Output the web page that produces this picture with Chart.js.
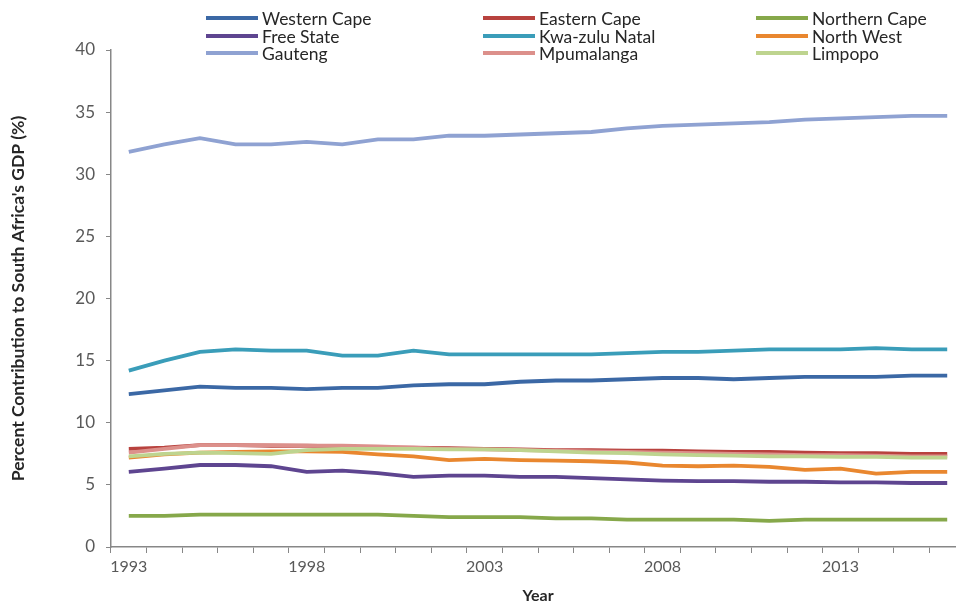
<!DOCTYPE html>
<html>
<head>
<meta charset="utf-8">
<script src="https://cdn.jsdelivr.net/npm/chart.js@4.4.1/dist/chart.umd.min.js"></script>
<style>
  html, body { margin: 0; padding: 0; background: #fff; overflow: hidden; }
  #wrap { width: 972px; height: 609px; position: relative; }
</style>
</head>
<body>
<div id="wrap"><canvas id="gdpChart"></canvas></div>
<script>
// years on the x axis, only every fifth one gets a label
const years = ['1993','1994','1995','1996','1997','1998','1999','2000','2001','2002','2003','2004',
               '2005','2006','2007','2008','2009','2010','2011','2012','2013','2014','2015','2016'];
const labelledYears = ['1993','1998','2003','2008','2013'];
const yTicks = [0, 5, 10, 15, 20, 25, 30, 35, 40];

// percent contribution to GDP
const westernCape  = [12.3,12.6,12.9,12.8,12.8,12.7,12.8,12.8,13.0,13.1,13.1,13.3,13.4,13.4,13.5,13.6,13.6,13.5,13.6,13.7,13.7,13.7,13.8,13.8];
const easternCape  = [7.9,8.0,8.2,8.2,8.15,8.15,8.1,8.0,8.0,7.95,7.9,7.85,7.8,7.8,7.75,7.75,7.7,7.65,7.65,7.6,7.55,7.55,7.5,7.5];
const northernCape = [2.5,2.5,2.6,2.6,2.6,2.6,2.6,2.6,2.5,2.4,2.4,2.4,2.3,2.3,2.2,2.2,2.2,2.2,2.1,2.2,2.2,2.2,2.2,2.2];
const freeState    = [6.05,6.3,6.6,6.6,6.5,6.05,6.15,5.95,5.65,5.75,5.75,5.65,5.65,5.55,5.45,5.35,5.3,5.3,5.25,5.25,5.2,5.2,5.15,5.15];
const kwaZuluNatal = [14.2,15.0,15.7,15.9,15.8,15.8,15.4,15.4,15.8,15.5,15.5,15.5,15.5,15.5,15.6,15.7,15.7,15.8,15.9,15.9,15.9,16.0,15.9,15.9];
const northWest    = [7.2,7.45,7.6,7.65,7.7,7.7,7.65,7.45,7.3,7.0,7.1,7.0,6.95,6.9,6.8,6.55,6.5,6.55,6.45,6.2,6.3,5.9,6.05,6.05];
const gauteng      = [31.8,32.4,32.9,32.4,32.4,32.6,32.4,32.8,32.8,33.1,33.1,33.2,33.3,33.4,33.7,33.9,34.0,34.1,34.2,34.4,34.5,34.6,34.7,34.7];
const mpumalanga   = [7.6,7.9,8.2,8.2,8.2,8.15,8.15,8.1,8.0,7.9,7.85,7.8,7.75,7.7,7.65,7.6,7.55,7.5,7.45,7.4,7.4,7.35,7.3,7.3];
const limpopo      = [7.3,7.5,7.6,7.55,7.5,7.8,7.9,7.9,7.9,7.85,7.85,7.8,7.7,7.6,7.55,7.45,7.4,7.35,7.3,7.3,7.25,7.25,7.2,7.2];

const seriesNames = ['Western Cape','Eastern Cape','Northern Cape','Free State','Kwa-zulu Natal','North West','Gauteng','Mpumalanga','Limpopo'];
const seriesData = [westernCape, easternCape, northernCape, freeState, kwaZuluNatal, northWest, gauteng, mpumalanga, limpopo];
const seriesColors = ['#3b68a5','#b8423e','#86a84a','#5e4590','#3a9db9','#e9872f','#8fa2d2','#dc908b','#bed48f'];

const axisGrey = '#878787';
const textGrey = '#595959';

// 3 x 3 legend grid like the Excel original
const gridLegend = {
    id: 'gridLegend',
    afterDraw(chart) {
        const ctx = chart.ctx;
        const cols = [206, 483, 756];
        const rows = [18, 36, 53];
        chart.data.datasets.forEach((ds, i) => {
            const x = cols[i % 3];
            const y = rows[Math.floor(i / 3)];
            ctx.save();
            ctx.strokeStyle = ds.borderColor;
            ctx.lineWidth = 4;
            ctx.beginPath();
            ctx.moveTo(x, y);
            ctx.lineTo(x + 52, y);
            ctx.stroke();
            ctx.fillStyle = '#262626';
            ctx.font = '17.5px Lato';
            ctx.textBaseline = 'middle';
            ctx.fillText(ds.label, x + 56, y + 1);
            ctx.restore();
        });
    }
};

const datasets = seriesNames.map((name, i) => ({
    label: name,
    data: seriesData[i],
    borderColor: seriesColors[i],
    backgroundColor: seriesColors[i],
    borderWidth: 3.8,
    pointRadius: 0,
    tension: 0,
    fill: false,
    order: seriesNames.length - i   // later series drawn on top, as in Excel
}));

const ctx = document.getElementById('gdpChart').getContext('2d');
new Chart(ctx, {
    type: 'line',
    data: { labels: years, datasets: datasets },
    plugins: [gridLegend],
    options: {
        responsive: true,
        maintainAspectRatio: false,
        animation: false,
        layout: { padding: { top: 50, right: 7, left: 4, bottom: 0 } },
        plugins: {
            legend: { display: false },
            tooltip: { enabled: false }
        },
        scales: {
            x: {
                type: 'category',
                offset: true,
                grid: { display: true, drawOnChartArea: false, drawTicks: true, tickLength: 6, color: axisGrey, offset: true },
                border: { display: true, color: axisGrey, width: 1.5 },
                ticks: {
                    autoSkip: false,
                    maxRotation: 0,
                    color: textGrey,
                    font: { family: 'Lato', size: 16 },
                    padding: 4,
                    callback: function(val) {
                        const y = this.getLabelForValue(val);
                        return labelledYears.includes(y) ? y : '';
                    }
                },
                title: {
                    display: true,
                    text: 'Year',
                    color: '#262626',
                    font: { family: 'Lato', size: 16, weight: 'bold' },
                    padding: { top: 4 }
                },
                afterFit: s => { s.height = 62; }
            },
            y: {
                min: 0,
                max: 40,
                afterBuildTicks: s => { s.ticks = yTicks.map(v => ({ value: v })); },
                grid: { display: true, drawOnChartArea: false, drawTicks: true, tickLength: 5, color: axisGrey },
                border: { display: true, color: axisGrey, width: 1.5 },
                ticks: {
                    color: textGrey,
                    font: { family: 'Lato', size: 17 },
                    padding: 11
                },
                title: {
                    display: true,
                    text: "Percent Contribution to South Africa's GDP (%)",
                    color: '#262626',
                    font: { family: 'Lato', size: 17.5, weight: 'bold' },
                    padding: { bottom: 7 }
                },
                afterFit: s => { s.width = 107; }
            }
        }
    }
});
</script>
</body>
</html>
